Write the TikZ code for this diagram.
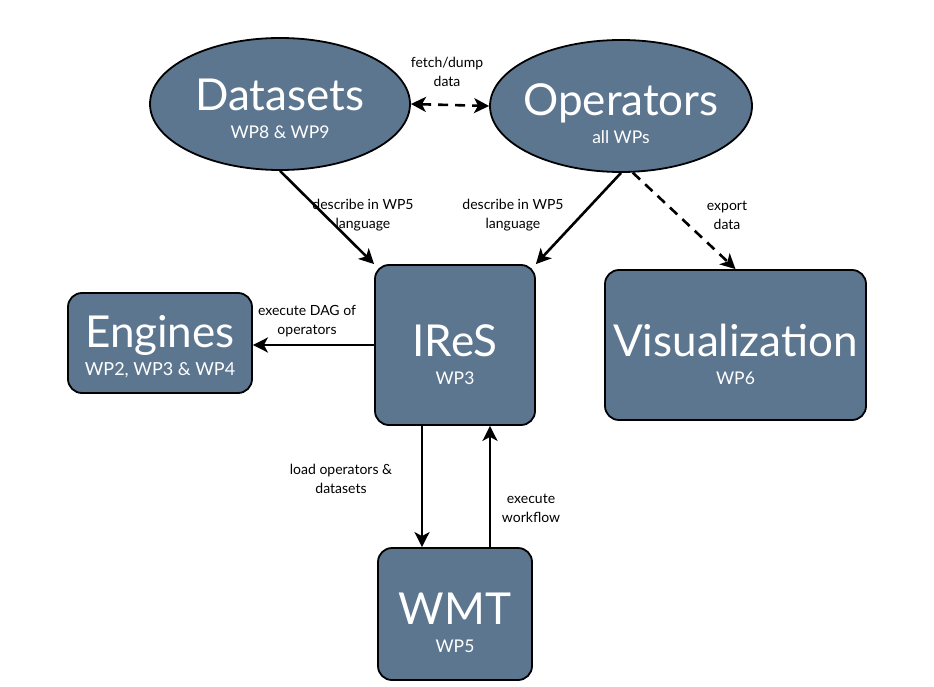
\documentclass[tikz,border=0pt]{standalone}
\usepackage{fontspec}
\setmainfont{Lato}
\usetikzlibrary{shapes.geometric,arrows.meta,calc}
\definecolor{slate}{RGB}{92,118,144}
\tikzset{
  unitbox/.style={draw=black, line width=1.8pt, fill=slate, text=white, align=center, inner sep=0pt,
    font=\fontsize{17}{28}\selectfont, text depth=0pt},
  ellbox/.style={unitbox, ellipse, inner xsep=-22pt},
  rbox/.style={unitbox, rectangle, rounded corners=14pt},
  tip/.tip={Stealth[length=15pt,width=15pt,inset=4pt]},
  arr/.style={line width=2.6pt, -tip},
  darr/.style={arr, dash pattern=on 10pt off 7pt},
  elabel/.style={font=\fontsize{14}{19}\selectfont, align=center, text=black, inner sep=0pt},
}
\newcommand{\bigt}[1]{{\fontsize{44}{46}\selectfont #1}}
\newcommand{\smallt}[1]{{\fontsize{17.5}{19}\selectfont #1}}
\begin{document}
\begin{tikzpicture}[x=1pt,y=-1pt]
\useasboundingbox (0,0) rectangle (934,687);
\node[ellbox, minimum width=260pt, minimum height=132pt, text height=70pt] (ds) at (280,104) {\bigt{Datasets}\\\smallt{WP8 \& WP9}};
\node[ellbox, minimum width=262pt, minimum height=132pt, text height=76pt] (op) at (621,106) {\bigt{Operators}\\\smallt{all WPs}};
\node[rbox, minimum width=160pt, minimum height=160pt, text height=78pt] (ires) at (455,345) {\bigt{IReS}\\\smallt{WP3}};
\node[rbox, minimum width=184pt, minimum height=100pt, text height=64pt] (eng) at (160,343) {\bigt{Engines}\\\smallt{\fontsize{18}{19}\selectfont WP2, WP3 \& WP4}};
\node[rbox, minimum width=261pt, minimum height=150pt, text height=78pt] (vis) at (735.5,345) {\bigt{Visualization}\\\smallt{WP6}};
\node[rbox, minimum width=154pt, minimum height=132pt, text height=76pt] (wmt) at (455,614) {\bigt{WMT}\\\smallt{WP5}};

\draw[darr, tip-tip] (ds.east) -- (op.west);
\draw[arr] (ds.south) -- (ires.north west);
\draw[arr] (op.south) -- (ires.north east);
\draw[darr] (op.-80) -- (vis.north);
\draw[arr] (ires.west) -- (ires.west -| eng.east);
\draw[arr] ([xshift=-33pt]ires.south) -- ([xshift=-33pt]wmt.north);
\draw[arr] ([xshift=35pt]wmt.north) -- ([xshift=35pt]ires.south);

\node[elabel] (l1) at (447,72) {fetch/dump\\data};
\node[elabel] (l2) at (363,215) {describe in WP5\\language};
\node[elabel] (l3) at (513,215) {describe in WP5\\language};
\node[elabel] (l4) at (727,215) {export\\data};
\node[elabel] (l5) at (307,321) {execute DAG of\\operators};
\node[elabel] (l6) at (341,479) {load operators \&\\datasets};
\node[elabel] (l7) at (531,508) {execute\\workflow};
\end{tikzpicture}
\end{document}
